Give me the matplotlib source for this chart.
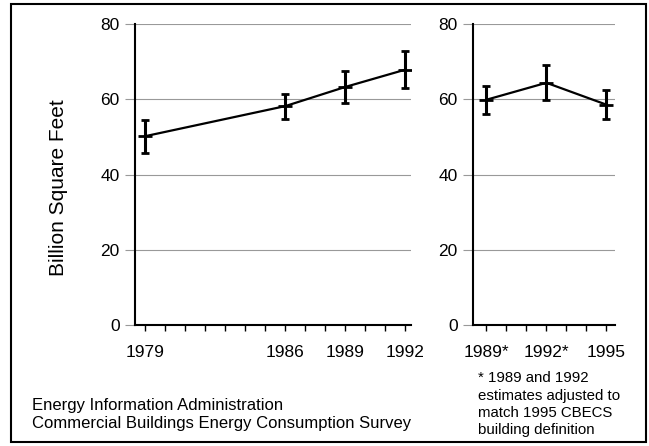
import matplotlib.pyplot as plt
from matplotlib.patches import Rectangle

plt.rcParams['font.family'] = ['Liberation Sans', 'DejaVu Sans']

# Data (billion square feet, with error bar half-widths)
years_old = [1979, 1986, 1989, 1992]
area_old = [50.2, 58.2, 63.3, 67.9]
err_old = [4.4, 3.3, 4.2, 5.0]

years_new = [1989, 1992, 1995]
area_new = [59.9, 64.4, 58.6]
err_new = [3.7, 4.7, 3.8]
labels_new = ['1989*', '1992*', '1995']

yticks = [0, 20, 40, 60, 80]

source_lines = ['Energy Information Administration',
                'Commercial Buildings Energy Consumption Survey']
note_lines = ['* 1989 and 1992', 'estimates adjusted to',
              'match 1995 CBECS', 'building definition']

fig = plt.figure(figsize=(6.49, 4.46), dpi=100)
ax1 = fig.add_axes([0.208, 0.271, 0.426, 0.675])
ax2 = fig.add_axes([0.729, 0.271, 0.219, 0.675])


def style(ax):
    ax.set_ylim(0, 80)
    ax.set_yticks(yticks)
    ax.grid(axis='y', color='#999999', linewidth=0.8)
    ax.set_axisbelow(True)
    for s in ['top', 'right']:
        ax.spines[s].set_visible(False)
    ax.spines['left'].set_linewidth(1.5)
    ax.spines['bottom'].set_linewidth(1.5)
    ax.tick_params(axis='y', length=7, width=0.8, color='#999999', labelsize=12.5, pad=4)
    ax.tick_params(axis='x', which='both', length=4, width=1, labelsize=12.5, pad=10)


ax1.errorbar(years_old, area_old, yerr=err_old, color='black', linewidth=1.6,
             elinewidth=2.2, capsize=3, capthick=2, marker='_', markersize=10,
             markeredgewidth=2)
ax1.set_xlim(1978.5, 1992.3)
ax1.set_xticks(years_old)
ax1.set_xticks(range(1979, 1993), minor=True)
style(ax1)
ax1.set_ylabel('Billion Square Feet', fontsize=15)
ax1.yaxis.set_label_coords(-0.242, 0.457)

ax2.errorbar(years_new, area_new, yerr=err_new, color='black', linewidth=1.6,
             elinewidth=2.2, capsize=3, capthick=2, marker='_', markersize=10,
             markeredgewidth=2)
ax2.set_xlim(1988.33, 1995.45)
ax2.set_xticks(years_new)
ax2.set_xticklabels(labels_new)
ax2.set_xticks(range(1989, 1996), minor=True)
style(ax2)

for line, y in zip(source_lines, [0.0807, 0.0404]):
    fig.text(0.049, y, line, fontsize=12, va='baseline', ha='left')
for line, y in zip(note_lines, [0.1435, 0.103, 0.065, 0.027]):
    fig.text(0.737, y, line, fontsize=10.8, va='baseline', ha='left')

fig.add_artist(Rectangle((0.017, 0.009), 0.978, 0.982, transform=fig.transFigure,
                         fill=False, edgecolor='black', linewidth=1.5))

fig.savefig('out.png', dpi=100)
